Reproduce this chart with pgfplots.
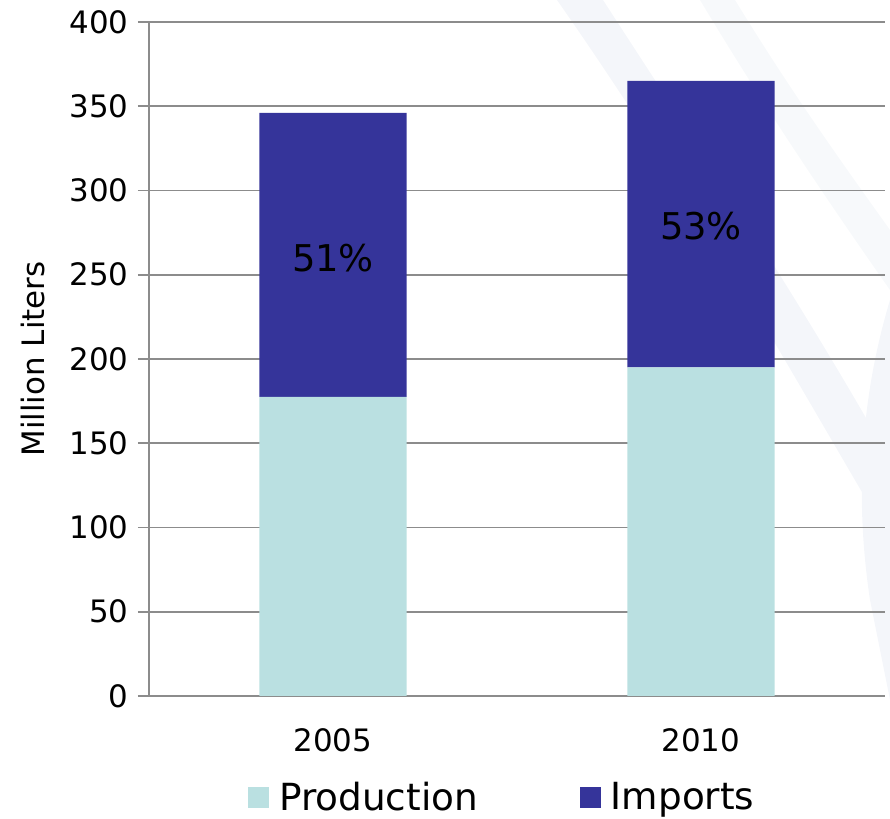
\documentclass[border=0pt]{standalone}
\usepackage{pgfplots}
\pgfplotsset{compat=1.18}
\usepackage{fontspec}
\setmainfont{DejaVu Sans}
\definecolor{prod}{HTML}{BAE0E1}
\definecolor{imp}{HTML}{35349A}
\definecolor{gridc}{HTML}{8C8C8C}
\definecolor{swoosh}{HTML}{F4F6FA}
\begin{document}
\begin{tikzpicture}
% faint background swooshes (pixel coordinates)
\begin{scope}[x=1bp, y=-1bp, shift={(0bp,819bp)}]
  \fill[swoosh] (557,0) -- (603,0) .. controls (700,150) and (800,300) .. (890,460) -- (890,540) .. controls (790,370) and (690,190) .. cycle;
  \fill[swoosh!70!white] (700,0) -- (735,0) .. controls (790,90) and (840,160) .. (890,230) -- (890,290) .. controls (820,190) and (760,100) .. cycle;
  \fill[swoosh] (890,300) .. controls (860,400) and (855,500) .. (870,600) -- (890,700) -- cycle;
\end{scope}
\begin{axis}[
  at={(149bp,123bp)}, anchor=south west,
  scale only axis,
  width=736bp, height=674bp,
  ybar stacked,
  bar width=0.4,
  xmin=-0.5, xmax=1.5,
  ymin=0, ymax=400,
  ytick={0,50,...,400},
  xtick={0,1},
  xticklabels={2005,2010},
  major x tick style={draw=none},
  extra x ticks={-0.5,0.5,1.5},
  extra x tick labels={},
  extra x tick style={major tick length=11bp, tick align=outside, tick style={draw=gridc, line width=1.6bp}, grid=none},
  ytick align=outside,
  major tick length=11bp,
  ytick style={draw=gridc, line width=1.6bp},
  ymajorgrids,
  grid style={draw=gridc, line width=1.6bp},
  axis x line*=bottom,
  axis y line*=left,
  axis line style={draw=gridc, line width=1.6bp},
  /pgf/number format/assume math mode=true,
  tick label style={font=\fontsize{31}{36}\selectfont, text=black},
  yticklabel style={xshift=-6bp},
  xticklabel style={yshift=-29bp},
  ylabel={Million Liters},
  ylabel style={font=\fontsize{31}{35}\selectfont, at={(axis description cs:0,0.5)}, anchor=center, yshift=116bp},
  legend columns=2,
  legend style={at={(0.48,-0.15)}, anchor=center, draw=none, fill=none,
    font=\fontsize{37.5}{42}\selectfont,
    /tikz/every odd column/.append style={column sep=8bp},
    /tikz/every even column/.append style={column sep=100bp}},
  legend image code/.code={\fill[#1,draw=none] (0bp,-10.5bp) rectangle (21bp,10.5bp);},
]
\addplot[fill=prod, draw=none] coordinates {(0,177.5) (1,195)};
\addlegendentry{Production}
\addplot[fill=imp, draw=none] coordinates {(0,168.5) (1,170)};
\addlegendentry{Imports}
\coordinate (p1) at (axis cs:0,260);
\coordinate (p2) at (axis cs:1,279);
\end{axis}
\node[font=\fontsize{37}{42}\selectfont, text=black] at (p1) {51\%};
\node[font=\fontsize{37}{42}\selectfont, text=black] at (p2) {53\%};
\pgfresetboundingbox
\useasboundingbox (0,0) rectangle (890bp,819bp);
\end{tikzpicture}
\end{document}
